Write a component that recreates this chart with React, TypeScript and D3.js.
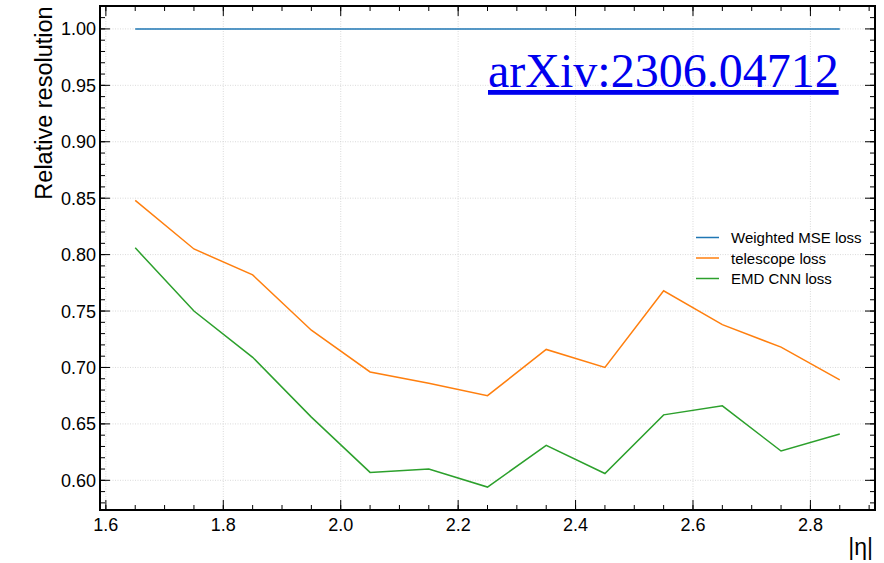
import React from "react";
import * as d3 from "d3";

const etaValues = [1.65, 1.75, 1.85, 1.95, 2.05, 2.15, 2.25, 2.35, 2.45, 2.55, 2.65, 2.75, 2.85];
const mseLoss = [1, 1, 1, 1, 1, 1, 1, 1, 1, 1, 1, 1, 1];
const telescopeLoss = [0.848, 0.805, 0.782, 0.733, 0.696, 0.686, 0.675, 0.716, 0.700, 0.768, 0.738, 0.718, 0.689];
const emdLoss = [0.806, 0.750, 0.709, 0.656, 0.607, 0.610, 0.594, 0.631, 0.606, 0.658, 0.666, 0.626, 0.641];
const seriesNames = ["Weighted MSE loss", "telescope loss", "EMD CNN loss"];
const seriesColors = ["#1f77b4", "#ff7f0e", "#2ca02c"];
const xTicks = [1.6, 1.8, 2.0, 2.2, 2.4, 2.6, 2.8];
const yTicks = [0.6, 0.65, 0.7, 0.75, 0.8, 0.85, 0.9, 0.95, 1.0];

export default function App() {
  const W = 884, H = 563;
  const left = 100, right = 875, top = 6, bottom = 510;
  const x = d3.scaleLinear().domain([1.59, 2.91]).range([left, right]);
  const y = d3.scaleLinear().domain([0.5737, 1.0203]).range([bottom, top]);
  const line = d3.line<[number, number]>().x(d => x(d[0])).y(d => y(d[1]));
  const all = [mseLoss, telescopeLoss, emdLoss];
  const xMinor = d3.range(1.6, 2.91, 0.05).map(v => +v.toFixed(2));
  const yMinor = d3.range(0.58, 1.02, 0.01).map(v => +v.toFixed(2));
  const font = "Liberation Sans, Arial, sans-serif";
  return (
    <svg width={W} height={H} style={{ position: "absolute", left: 0, top: 0 }}>
      <rect width={W} height={H} fill="#fff" />
      {/* grid */}
      {xTicks.map(t => (
        <line key={"gx" + t} x1={x(t)} x2={x(t)} y1={top} y2={bottom} stroke="#d0d0d0" strokeWidth={0.8} strokeDasharray="1,1.5" />
      ))}
      {yTicks.map(t => (
        <line key={"gy" + t} x1={left} x2={right} y1={y(t)} y2={y(t)} stroke="#d0d0d0" strokeWidth={0.8} strokeDasharray="1,1.5" />
      ))}
      {/* series */}
      {all.map((s, i) => (
        <path key={i} d={line(etaValues.map((e, j) => [e, s[j]] as [number, number])) || ""} fill="none" stroke={seriesColors[i]} strokeWidth={1.5} />
      ))}
      {/* minor ticks */}
      {xMinor.map(t => (
        <g key={"xm" + t}>
          <line x1={x(t)} x2={x(t)} y1={bottom} y2={bottom - 5} stroke="#000" strokeWidth={1} />
          <line x1={x(t)} x2={x(t)} y1={top} y2={top + 5} stroke="#000" strokeWidth={1} />
        </g>
      ))}
      {yMinor.map(t => (
        <g key={"ym" + t}>
          <line x1={left} x2={left + 5} y1={y(t)} y2={y(t)} stroke="#000" strokeWidth={1} />
          <line x1={right} x2={right - 5} y1={y(t)} y2={y(t)} stroke="#000" strokeWidth={1} />
        </g>
      ))}
      {/* major ticks */}
      {xTicks.map(t => (
        <g key={"xt" + t}>
          <line x1={x(t)} x2={x(t)} y1={bottom} y2={bottom - 10} stroke="#000" strokeWidth={1} />
          <line x1={x(t)} x2={x(t)} y1={top} y2={top + 10} stroke="#000" strokeWidth={1} />
          <text x={x(t)} y={bottom + 21} textAnchor="middle" fontFamily={font} fontSize={18}>{t.toFixed(1)}</text>
        </g>
      ))}
      {yTicks.map(t => (
        <g key={"yt" + t}>
          <line x1={left} x2={left + 10} y1={y(t)} y2={y(t)} stroke="#000" strokeWidth={1} />
          <line x1={right} x2={right - 10} y1={y(t)} y2={y(t)} stroke="#000" strokeWidth={1} />
          <text x={left - 4} y={y(t) + 6.5} textAnchor="end" fontFamily={font} fontSize={18}>{t.toFixed(2)}</text>
        </g>
      ))}
      <rect x={left} y={top} width={right - left} height={bottom - top} fill="none" stroke="#000" strokeWidth={2} />
      {/* axis labels */}
      <text transform="translate(52,103) rotate(-90)" textAnchor="middle" fontFamily={font} fontSize={23.5}>Relative resolution</text>
      <text x={873} y={555} textAnchor="end" fontFamily={font} fontSize={23}>|η|</text>
      {/* legend */}
      {seriesNames.map((n, i) => (
        <g key={n}>
          <line x1={696} x2={719} y1={237.5 + i * 20.5} y2={237.5 + i * 20.5} stroke={seriesColors[i]} strokeWidth={1.5} />
          <text x={731} y={243 + i * 20.5} fontFamily={font} fontSize={15}>{n}</text>
        </g>
      ))}
      {/* arXiv watermark */}
      <text x={488} y={87} fontFamily="Liberation Serif, Times New Roman, serif" fontSize={48} fill="#0000ee" textDecoration="underline">arXiv:2306.04712</text>
    </svg>
  );
}
